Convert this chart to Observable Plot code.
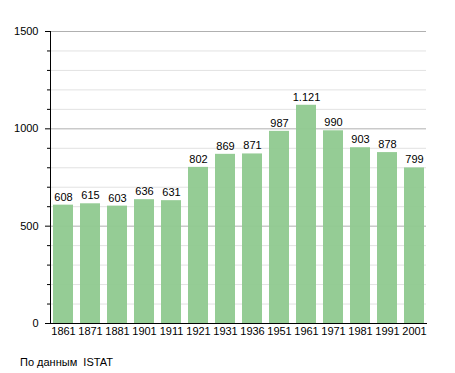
<!DOCTYPE html>
<html><head><meta charset="utf-8">
<script src="https://cdn.jsdelivr.net/npm/d3@7"></script>
<script src="https://cdn.jsdelivr.net/npm/@observablehq/plot@0.6"></script>
<style>
body{margin:0;background:#fff;font-family:"Liberation Sans",Arial,sans-serif;}
#cap{font-size:11px;color:#000;margin:6px 0 0 20px;}
</style></head><body>
<div id="chart"></div>
<div id="cap">По данным &nbsp;ISTAT</div>
<script>
const years = ["1861","1871","1881","1901","1911","1921","1931","1936","1951","1961","1971","1981","1991","2001"];
const population = [608,615,603,636,631,802,869,871,987,1121,990,903,878,799];
const majorTicks = [0,500,1000,1500];
const minorTicks = d3.range(100,1500,100).filter(v => v % 500 !== 0);

const data = years.map((y,i)=>({year:y, value:population[i]}));
const fmt = v => d3.format(",")(v).replace(/,/g,".");

const chart = Plot.plot({
  width:455, height:350,
  marginLeft:50, marginRight:29, marginTop:31, marginBottom:27,
  style:{fontFamily:"'Liberation Sans', Arial, sans-serif", fontSize:"11px", color:"#000"},
  x:{domain:years, paddingInner:0.26, paddingOuter:0.04, label:null},
  y:{domain:[0,1500], label:null},
  marks:[
    Plot.ruleY(minorTicks,{stroke:"#e2e2e2"}),
    Plot.ruleY(majorTicks.filter(v=>v>0),{stroke:"#b0b0b0"}),
    Plot.barY(data,{x:"year", y:"value", fill:"#8fc98f", fillOpacity:0.95}),
    Plot.text(data,{x:"year", y:"value", text:d=>fmt(d.value), dy:-8, fontSize:11, fill:"#000"}),
    Plot.axisY(minorTicks,{tickSize:3, text:null, label:null}),
    Plot.axisY(majorTicks,{tickSize:5, tickPadding:7, label:null, fontSize:11, tickFormat:d=>String(d)}),
    Plot.axisX({tickSize:0, tickPadding:4, label:null, fontSize:11}),
    Plot.frame({anchor:"left", stroke:"#000"}),
    Plot.frame({anchor:"bottom", stroke:"#000"})
  ]
});
document.getElementById("chart").appendChild(chart);
</script></body></html>
